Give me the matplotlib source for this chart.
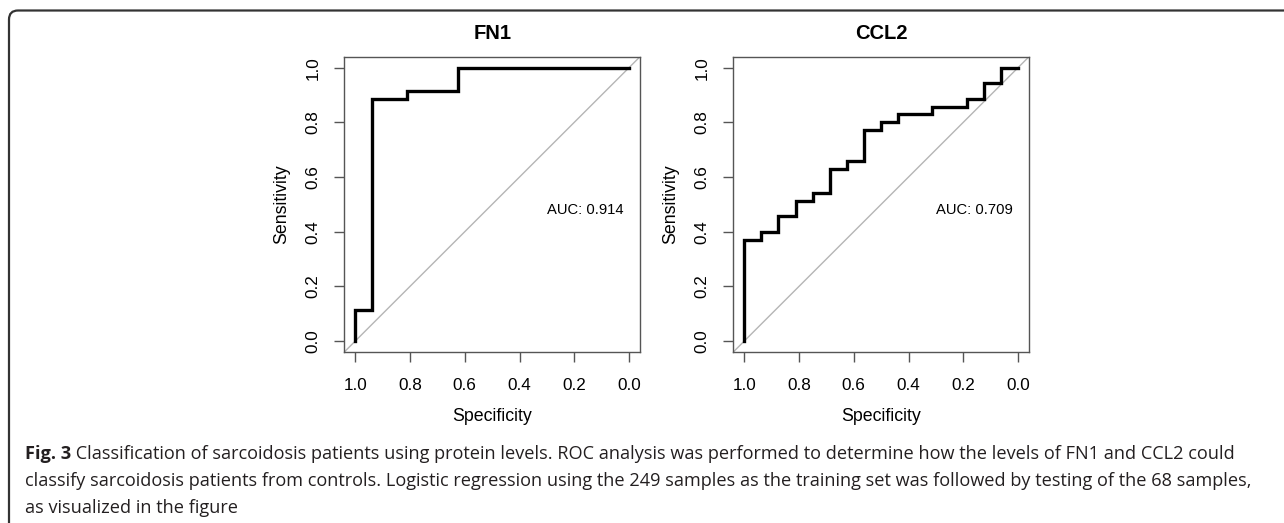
import matplotlib
matplotlib.use("Agg")
import matplotlib.pyplot as plt
from matplotlib.path import Path
from matplotlib.patches import PathPatch

# ROC step curves (specificity, sensitivity)
fn1_spec = [1.0, 1.0, 0.9375, 0.9375, 0.8125, 0.8125, 0.625, 0.625, 0.0]
fn1_sens = [0.0, 0.114, 0.114, 0.886, 0.886, 0.914, 0.914, 1.0, 1.0]
fn1_auc = "AUC: 0.914"

ccl2_spec = [1.0, 1.0, 0.9375, 0.9375, 0.875, 0.875, 0.8125, 0.8125, 0.75, 0.75,
             0.6875, 0.6875, 0.625, 0.625, 0.5625, 0.5625, 0.5, 0.5, 0.4375, 0.4375,
             0.3125, 0.3125, 0.1875, 0.1875, 0.125, 0.125, 0.0625, 0.0625, 0.0]
ccl2_sens = [0.0, 0.371, 0.371, 0.4, 0.4, 0.457, 0.457, 0.514, 0.514, 0.543,
             0.543, 0.629, 0.629, 0.657, 0.657, 0.771, 0.771, 0.8, 0.8, 0.829,
             0.829, 0.857, 0.857, 0.886, 0.886, 0.943, 0.943, 1.0, 1.0]
ccl2_auc = "AUC: 0.709"

ticks = [1.0, 0.8, 0.6, 0.4, 0.2, 0.0]
tick_labels = ["1.0", "0.8", "0.6", "0.4", "0.2", "0.0"]

caption_bold = "Fig. 3"
caption_lines = [
    " Classification of sarcoidosis patients using protein levels. ROC analysis was performed to determine how the levels of FN1 and CCL2 could",
    "classify sarcoidosis patients from controls. Logistic regression using the 249 samples as the training set was followed by testing of the 68 samples,",
    "as visualized in the figure",
]

W, H = 1284, 523
fig = plt.figure(figsize=(W / 100, H / 100), dpi=100)
plt.rcParams['font.family'] = ['Liberation Sans', 'DejaVu Sans']

axis_col = '#555555'
panels = [
    ("FN1", fn1_spec, fn1_sens, fn1_auc, 344.3),
    ("CCL2", ccl2_spec, ccl2_sens, ccl2_auc, 733.3),
]
for title, spec, sens, auc, left_px in panels:
    ax = fig.add_axes([left_px / W, 1 - 352 / H, 295.7 / W, 295.3 / H])
    ax.set_xlim(1.04, -0.04)
    ax.set_ylim(-0.04, 1.04)
    ax.axline((1, 0), (0, 1), color='#b5b5b5', lw=1.0, zorder=1)
    ax.plot(spec, sens, color='black', lw=2.4, solid_joinstyle='miter', zorder=3)
    ax.text(0.30, 0.48, auc, fontsize=10.6, ha='left', va='center')
    ax.set_title(title, fontsize=14.5, fontweight='bold', pad=13)
    ax.set_xticks(ticks)
    ax.set_xticklabels(tick_labels, fontsize=12.3)
    ax.set_yticks(ticks)
    ax.set_yticklabels(tick_labels, fontsize=12.3, rotation=90, va='center')
    ax.tick_params(axis='x', length=7, width=1, color=axis_col, pad=11.5)
    ax.tick_params(axis='y', length=7, width=1, color=axis_col, pad=10)
    ax.set_xlabel("Specificity", fontsize=12.8, labelpad=11)
    ax.set_ylabel("Sensitivity", fontsize=12.8, labelpad=11)
    for s in ax.spines.values():
        s.set_color(axis_col)
        s.set_linewidth(1.0)

# rounded border on top and left
r = 9
verts = [(9, H), (9, 10.5 + r), (9, 10.5), (9 + r, 10.5), (W, 10.5)]
verts = [(x / W, 1 - y / H) for x, y in verts]
codes = [Path.MOVETO, Path.LINETO, Path.CURVE3, Path.CURVE3, Path.LINETO]
fig.add_artist(PathPatch(Path(verts, codes), transform=fig.transFigure,
                         fill=False, edgecolor='#333333', lw=1.6))

# caption
cap_font = ['Open Sans', 'DejaVu Sans']
cap_col = '#231f20'
base = [459, 486.5, 513]
fs = 13.1
t0 = fig.text(25 / W, 1 - base[0] / H, caption_bold, fontsize=fs, fontweight='bold',
              family=cap_font, color=cap_col, va='baseline')
fig.canvas.draw()
bb = t0.get_window_extent()
fig.text(bb.x1 / W, 1 - base[0] / H, caption_lines[0], fontsize=fs, family=cap_font,
         color=cap_col, va='baseline')
for y, line in zip(base[1:], caption_lines[1:]):
    fig.text(25 / W, 1 - y / H, line, fontsize=fs, family=cap_font, color=cap_col,
             va='baseline')

fig.savefig("out.png", dpi=100)
